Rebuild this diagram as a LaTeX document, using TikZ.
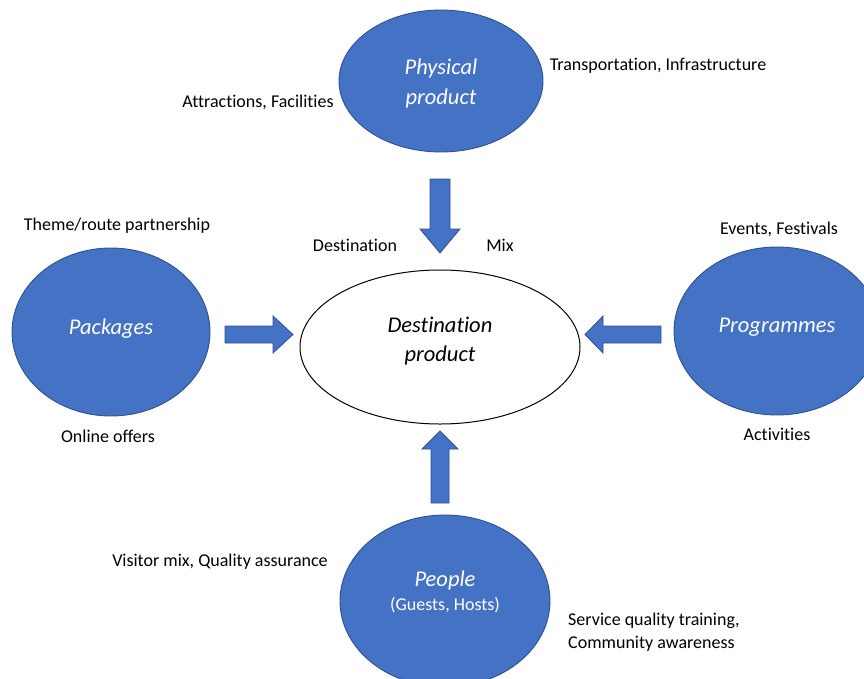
\documentclass[tikz,border=0pt]{standalone}
\usepackage{fontspec}
\setmainfont{Carlito}[Ligatures=NoCommon]
\usetikzlibrary{shapes.geometric}
\definecolor{blobfill}{HTML}{4472C4}
\definecolor{blobline}{HTML}{2F528F}
\tikzset{
  blob/.style={ellipse, draw=blobline, line width=0.9pt, fill=blobfill, inner sep=0pt},
  blobtext/.style={text=white, font=\fontsize{22.5}{30}\selectfont\itshape, align=center, inner sep=0pt},
  core/.style={ellipse, draw=black, line width=1pt, fill=white, inner sep=0pt},
  coretext/.style={font=\fontsize{22.5}{29}\selectfont\itshape, align=center, inner sep=0pt},
  lbl/.style={font=\fontsize{18}{23}\selectfont, inner sep=0pt},
  blockarrow/.style={draw=blobline, line width=0.8pt, fill=blobfill, line join=miter}
}
\begin{document}
\begin{tikzpicture}[x=1pt, y=-1pt]
\useasboundingbox (0,0) rectangle (864,678);
\clip (0,0) rectangle (864,678);

% surrounding elements of the mix
\node[blob, minimum width=204pt, minimum height=142pt] (phys) at (441,81) {};
\node[blobtext] (physt) at (441,83) {Physical\\product};
\node[blob, minimum width=198pt, minimum height=168pt] (pack) at (111,332) {};
\node[blobtext] (packt) at (111,329) {Packages};
\node[blob, minimum width=206pt, minimum height=168pt] (prog) at (777,331) {};
\node[blobtext] (progt) at (777,327) {Programmes};
\node[blob, minimum width=210pt, minimum height=172pt] (peop) at (445,601) {};
\node[blobtext] (peopt) at (445,580) {People};
\node[text=white, font=\fontsize{18}{22}\selectfont, inner sep=0pt] (peops) at (445,605) {(Guests, Hosts)};

% the destination product in the centre
\node[core, minimum width=280pt, minimum height=154pt] (dest) at (440,347) {};
\node[coretext] (destt) at (440,341) {Destination\\product};

% block arrows pointing into the centre
\draw[blockarrow] (430,179) -- (450,179) -- (450,229) -- (460,229) -- (440,253)
  -- (420,229) -- (430,229) -- cycle;
\draw[blockarrow] (225,326) -- (273,326) -- (273,316) -- (293,334.5) -- (273,353)
  -- (273,343) -- (225,343) -- cycle;
\draw[blockarrow] (661,326) -- (603,326) -- (603,316) -- (585,334.5) -- (603,353)
  -- (603,343) -- (661,343) -- cycle;
\draw[blockarrow] (431,503) -- (449,503) -- (449,449) -- (458,449) -- (440,431)
  -- (422,449) -- (431,449) -- cycle;

% labels
\node[lbl] (l1) at (258,102) {Attractions, Facilities};
\node[lbl] (l2) at (658,66) {Transportation, Infrastructure};
\node[lbl] (l3) at (117,226) {Theme/route partnership};
\node[lbl] (l4) at (355,245) {Destination};
\node[lbl] (l5) at (500,245) {Mix};
\node[lbl] (l6) at (779,229) {Events, Festivals};
\node[lbl] (l7) at (108,436) {Online offers};
\node[lbl] (l8) at (777,434) {Activities};
\node[lbl] (l9) at (220,562) {Visitor mix, Quality assurance};
\node[lbl, anchor=west, align=left] (l10) at (568,632)
  {Service quality training,\\Community awareness};
\end{tikzpicture}
\end{document}
